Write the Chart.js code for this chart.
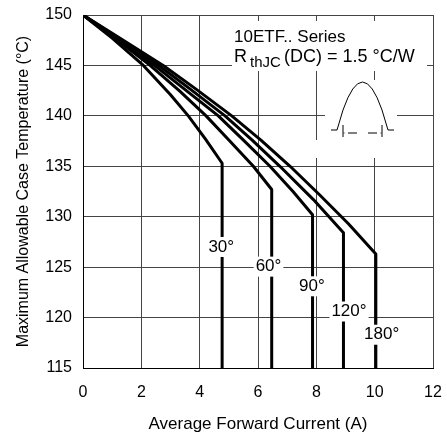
<!DOCTYPE html>
<html>
<head>
<meta charset="utf-8">
<script src="https://cdn.jsdelivr.net/npm/chart.js@4"></script>
<style>
  html, body { margin: 0; padding: 0; background: #fff; }
  #wrap { width: 447px; height: 437px; }
</style>
</head>
<body>
<div id="wrap"><canvas id="chart" width="447" height="437"></canvas></div>
<script>
// curve data (x = current A, y = case temp °C)
const x30 = [0, 1, 2.07, 3, 3.61, 4.2, 4.77, 4.77];
const y30 = [150, 147.7, 145, 142.1, 140, 137.7, 135.3, 115];

const x60 = [0, 1, 2.3, 3.3, 4.22, 5, 5.84, 6.47, 6.47];
const y60 = [150, 147.9, 145, 142.5, 140, 137.6, 135, 132.7, 115];

const x90 = [0, 1, 2.45, 3.5, 4.64, 5.5, 6.41, 7.2, 7.87, 7.87];
const y90 = [150, 148.0, 145, 142.6, 140, 137.6, 135, 132.5, 130.2, 115];

const x120 = [0, 1, 2.6, 3.7, 4.87, 5.8, 6.75, 7.9, 8.93, 8.93];
const y120 = [150, 148.1, 145, 142.6, 140, 137.6, 135, 131.7, 128.4, 115];

const x180 = [0, 1, 2.75, 3.9, 5.1, 6.1, 7.1, 8.1, 9.1, 10.04, 10.04];
const y180 = [150, 148.2, 145, 142.6, 140, 137.6, 135, 132.2, 129.3, 126.3, 115];

const angleLabels = ['30°', '60°', '90°', '120°', '180°'];
const labelX = [4.74, 6.36, 7.85, 9.12, 10.24];
const labelY = [127.0, 125.05, 123.1, 120.6, 118.3];

const xTicks = [0, 2, 4, 6, 8, 10, 12];
const yTicks = [115, 120, 125, 130, 135, 140, 145, 150];

const FONT = '"Liberation Sans", Arial, sans-serif';

function toPoints(xs, ys) {
  return xs.map((x, i) => ({ x: x, y: ys[i] }));
}

const seriesList = [[x30, y30], [x60, y60], [x90, y90], [x120, y120], [x180, y180]];

const datasets = seriesList.map((s, i) => ({
  label: angleLabels[i],
  data: toPoints(s[0], s[1]),
  showLine: true,
  borderColor: '#000',
  borderWidth: 3,
  borderJoinStyle: 'round',
  pointRadius: 0,
  tension: 0,
  fill: false
}));

// annotations: angle labels, series text, conduction angle sketch
const annotations = {
  id: 'annotations',
  afterDatasetsDraw(chart) {
    const ctx = chart.ctx;
    const xs = chart.scales.x;
    const ys = chart.scales.y;
    ctx.save();

    // angle labels on the vertical drops
    ctx.font = '17px ' + FONT;
    ctx.textAlign = 'center';
    ctx.textBaseline = 'middle';
    angleLabels.forEach((t, i) => {
      const px = xs.getPixelForValue(labelX[i]);
      const py = ys.getPixelForValue(labelY[i]);
      const w = ctx.measureText(t).width;
      ctx.fillStyle = '#fff';
      ctx.fillRect(px - w / 2 - 2, py - 10, w + 4, 20);
      ctx.fillStyle = '#000';
      ctx.fillText(t, px, py);
    });

    // series text block
    ctx.fillStyle = '#fff';
    ctx.fillRect(232, 21, 195, 50);
    ctx.fillStyle = '#000';
    ctx.textAlign = 'left';
    ctx.textBaseline = 'alphabetic';
    ctx.font = '17px ' + FONT;
    ctx.fillText('10ETF.. Series', 234, 42);
    ctx.font = '18px ' + FONT;
    ctx.fillText('R', 234, 62);
    ctx.font = '15px ' + FONT;
    ctx.fillText('thJC', 250, 67);
    ctx.font = '18px ' + FONT;
    ctx.fillText('(DC) = 1.5 °C/W', 284, 62);

    // conduction angle sketch
    ctx.fillStyle = '#fff';
    ctx.fillRect(325, 80, 72, 60);
    ctx.fillRect(285, 140, 145, 18);
    ctx.strokeStyle = '#000';
    ctx.lineWidth = 1;
    ctx.beginPath();
    ctx.moveTo(331, 130);
    ctx.lineTo(337, 130);
    ctx.lineTo(343, 110);
    ctx.quadraticCurveTo(362.5, 54, 382, 110);
    ctx.lineTo(388, 130);
    ctx.lineTo(394, 130);
    ctx.stroke();
    ctx.beginPath();
    ctx.moveTo(343, 125); ctx.lineTo(343, 137);
    ctx.moveTo(382, 125); ctx.lineTo(382, 137);
    ctx.moveTo(343, 133); ctx.lineTo(357, 133);
    ctx.moveTo(368, 133); ctx.lineTo(382, 133);
    ctx.stroke();
    ctx.beginPath();
    ctx.moveTo(343, 133); ctx.lineTo(348, 131); ctx.lineTo(348, 135); ctx.closePath();
    ctx.moveTo(382, 133); ctx.lineTo(377, 131); ctx.lineTo(377, 135); ctx.closePath();
    ctx.fill();
    ctx.font = '12px ' + FONT;
    ctx.textAlign = 'center';
    ctx.textBaseline = 'middle';
    ctx.fillText('ø', 362.5, 133);
    ctx.font = '16px ' + FONT;
    ctx.textBaseline = 'alphabetic';
    ctx.fillText('Conduction Angle', 357, 155);

    ctx.restore();
  }
};

new Chart(document.getElementById('chart').getContext('2d'), {
  type: 'scatter',
  data: { datasets: datasets },
  options: {
    responsive: false,
    animation: false,
    layout: { padding: { top: 15, right: 14, left: 0, bottom: 0 } },
    plugins: {
      legend: { display: false },
      tooltip: { enabled: false }
    },
    scales: {
      x: {
        type: 'linear',
        min: 0,
        max: 12,
        afterBuildTicks: (axis) => { axis.ticks = xTicks.map(v => ({ value: v })); },
        afterFit: (axis) => { axis.height = 69; },
        // invisible tick marks push the labels down without adding side padding
        grid: { color: '#444', lineWidth: 1, drawTicks: true, tickLength: 15, tickColor: 'rgba(0,0,0,0)' },
        border: { color: '#000', width: 1 },
        ticks: { color: '#000', font: { family: FONT, size: 16 }, padding: 0 },
        title: {
          display: true,
          text: 'Average Forward Current (A)',
          color: '#000',
          font: { family: FONT, size: 17 },
          padding: { top: 4, bottom: 2 }
        }
      },
      y: {
        type: 'linear',
        min: 115,
        max: 150,
        afterBuildTicks: (axis) => { axis.ticks = yTicks.map(v => ({ value: v })); },
        afterFit: (axis) => { axis.width = 83; },
        grid: { color: '#444', lineWidth: 1, drawTicks: true, tickLength: 11, tickColor: 'rgba(0,0,0,0)' },
        border: { color: '#000', width: 1 },
        ticks: { color: '#000', font: { family: FONT, size: 16 }, padding: 0 },
        title: {
          display: true,
          text: 'Maximum Allowable Case Temperature (°C)',
          color: '#000',
          font: { family: FONT, size: 16 },
          padding: { top: 14, bottom: 0 }
        }
      }
    }
  },
  plugins: [annotations]
});
</script>
</body>
</html>
